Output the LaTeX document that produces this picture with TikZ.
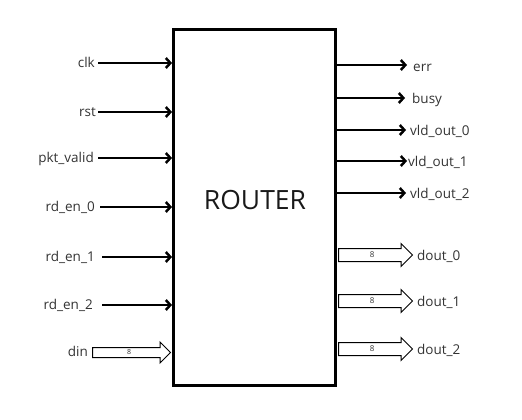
\documentclass[tikz,border=0pt]{standalone}
\usepackage{fontspec}
\setmainfont{Open Sans}
\usetikzlibrary{arrows.meta,shapes.arrows}
\begin{document}
\begin{tikzpicture}[x=1pt,y=-1pt,
  sig/.style={line width=2.5pt,-{Straight Barb[length=4.5pt,width=10pt,line width=2.5pt]}},
  inlbl/.style={anchor=base east,inner sep=0pt,font=\fontsize{13.5}{15}\selectfont,text=black!80},
  outlbl/.style={anchor=base west,inner sep=0pt,font=\fontsize{13.5}{15}\selectfont,text=black!80},
  bus/.style={single arrow,draw,line width=1pt,single arrow head extend=5pt,
    text height=5pt,text depth=0pt,inner ysep=3.5pt,inner xsep=0pt,
    font=\fontsize{8}{9}\selectfont,text=black!80,anchor=tail,minimum height=74pt}]
\useasboundingbox (0,0) rectangle (522,420);
\node[draw,line width=3pt,minimum width=161.5pt,minimum height=355.5pt,inner sep=0pt] (r) at (254.25,207.25) {};
\node[font=\fontsize{26.5}{30}\selectfont,text=black!90] (title) at (255,200) {ROUTER};
% inputs
\node[inlbl] (lclk) at (95,67) {clk};
\node[inlbl] (lrst) at (96,116) {rst};
\node[inlbl] (lpkt) at (94,162) {pkt\_valid};
\node[inlbl] (lrd0) at (95,211) {rd\_en\_0};
\node[inlbl] (lrd1) at (95,261) {rd\_en\_1};
\node[inlbl] (lrd2) at (93,309) {rd\_en\_2};
\coordinate (aclk) at (98,63);
\coordinate (arst) at (98,112);
\coordinate (apkt) at (98,158);
\coordinate (ard0) at (100,207);
\coordinate (ard1) at (102,257);
\coordinate (ard2) at (102,305);
\foreach \a in {aclk,arst,apkt,ard0,ard1,ard2}
  \draw[sig] (\a) -- (\a -| r.west);
% din bus
\node[inlbl] (ldin) at (88,356) {din};
\node[bus,minimum height=78pt,single arrow head extend=5.5pt,text height=4pt,inner ysep=2.5pt,font=\fontsize{7}{8}\selectfont] (bdin) at (92,352.5) {8};
% outputs
\coordinate (berr) at (407,65);
\coordinate (bbusy) at (405,98);
\coordinate (bv0) at (406,130);
\coordinate (bv1) at (407,161);
\coordinate (bv2) at (406,193);
\foreach \b in {berr,bbusy,bv0,bv1,bv2}
  \draw[sig] (\b -| r.east) -- (\b);
\node[outlbl] (lerr) at (413,71) {err};
\node[outlbl] (lbusy) at (412,103) {busy};
\node[outlbl] (lv0) at (410,135) {vld\_out\_0};
\node[outlbl] (lv1) at (408,166) {vld\_out\_1};
\node[outlbl] (lv2) at (410,198) {vld\_out\_2};
% dout buses
\node[bus] (bd0) at (338,255) {8};
\node[bus] (bd1) at (338,301) {8};
\node[bus] (bd2) at (338,349) {8};
\node[outlbl] (ld0) at (417,260) {dout\_0};
\node[outlbl] (ld1) at (417,306) {dout\_1};
\node[outlbl] (ld2) at (417,354) {dout\_2};
\end{tikzpicture}
\end{document}
